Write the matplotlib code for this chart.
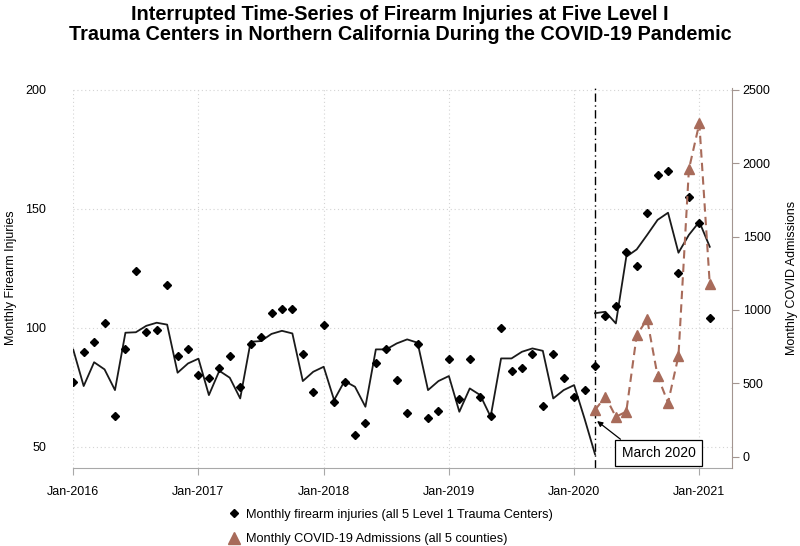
import matplotlib
matplotlib.use("Agg")
import matplotlib.pyplot as plt
from matplotlib.lines import Line2D

plt.rcParams['font.family'] = ['Liberation Sans', 'DejaVu Sans']

# month index 0 = Jan-2016
injuries = [77, 90, 94, 102, 63, 91, 124, 98, 99, 118, 88, 91,
            80, 79, 83, 88, 75, 93, 96, 106, 108, 108, 89, 73,
            101, 69, 77, 55, 60, 85, 91, 78, 64, 93, 62, 65,
            87, 70, 87, 71, 63, 100, 82, 83, 89, 67, 89, 79,
            71, 74, 84, 105, 109, 132, 126, 148, 164, 166, 123, 155,
            144, 104]
fit_pre = [90.8, 75.5, 85.5, 82.5, 73.8, 97.9, 98.1, 100.8, 102.1, 101.3, 81.1, 85.0,
           87.0, 71.7, 81.9, 79.0, 70.3, 94.1, 94.4, 97.4, 98.7, 97.6, 77.6, 81.5,
           83.6, 69.6, 77.6, 75.2, 66.8, 90.9, 90.9, 93.4, 95.1, 93.7, 73.8, 77.6,
           79.7, 64.7, 74.5, 71.7, 62.6, 87.1, 87.1, 89.9, 91.3, 90.3, 70.3, 73.8,
           75.9, 61.8, 46.9]
fit_post = [106.1, 106.7, 101.8, 129.8, 132.9, 139.0, 145.3, 148.3, 131.5, 139.0, 144.5, 134.0]
covid = [318, 409, 272, 307, 829, 936, 550, 368, 686, 1958, 2271, 1176]
tick_months = [0, 12, 24, 36, 48, 60]
tick_labels = ["Jan-2016", "Jan-2017", "Jan-2018", "Jan-2019", "Jan-2020", "Jan-2021"]
interruption = 50  # March 2020

x_all = list(range(len(injuries)))
x_pre = list(range(len(fit_pre)))
x_post = list(range(interruption, interruption + len(fit_post)))
x_cov = list(range(interruption, interruption + len(covid)))

brown = "#A86B5A"

fig = plt.figure(figsize=(8, 5.46), dpi=100)
ax = fig.add_axes([0.0909, 0.1434, 0.8237, 0.6963])
ax2 = ax.twinx()

# grid
for m in tick_months:
    ax.axvline(m, color="#d4d4d4", lw=0.8, ls=(0, (1, 2.5)), zorder=0)
for v in [50, 100, 150, 200]:
    ax.axhline(v, color="#d4d4d4", lw=0.8, ls=(0, (1, 2.5)), zorder=0)

ax.plot(x_pre, fit_pre, color="#1a1a1a", lw=1.3, zorder=3)
ax.plot(x_post, fit_post, color="#1a1a1a", lw=1.3, zorder=3)
ax.plot(x_all, injuries, ls="none", marker="D", ms=4.0, color="black", zorder=4)

ax2.plot(x_cov, covid, color=brown, ls=(0, (4, 2.5)), lw=1.5, marker="^", ms=7.5,
         markerfacecolor=brown, markeredgecolor=brown, zorder=5)

ax.axvline(interruption, color="black", lw=1.0, ls=(0, (6, 2.5, 1, 2.5)), zorder=2)

ax.set_xlim(-0.05, 63.1)
ax.set_ylim(41.2, 200.9)
ax2.set_ylim(-75, 2515)

ax.set_xticks(tick_months)
ax.set_xticklabels(tick_labels)
ax.set_yticks([50, 100, 150, 200])
ax2.set_yticks([0, 500, 1000, 1500, 2000, 2500])

for s in ["top", "left", "right"]:
    ax.spines[s].set_visible(False)
for s in ["top", "left", "bottom"]:
    ax2.spines[s].set_visible(False)
ax.spines["bottom"].set_color("#a8a8a8")
ax2.spines["right"].set_color("#a39590")

ax.tick_params(axis="y", length=0, pad=19, labelsize=9)
ax.tick_params(axis="x", length=5, color="#a8a8a8", labelsize=9, pad=8)
ax2.tick_params(axis="y", length=5, color="#a39590", labelsize=9, pad=3)

ax.set_ylabel("Monthly Firearm Injuries", fontsize=9)
ax.yaxis.set_label_coords(-0.085, 0.5)
ax2.set_ylabel("Monthly COVID Admissions", fontsize=9, labelpad=11)

ax.annotate("March 2020", xy=(50.2, 60.8), xytext=(56.1, 47.4),
            ha="center", va="center", fontsize=10,
            bbox=dict(boxstyle="square,pad=0.45", fc="white", ec="black", lw=0.9),
            arrowprops=dict(arrowstyle="-|>", color="black", lw=0.9,
                            shrinkA=0, shrinkB=0, mutation_scale=8,
                            relpos=(0.1, 1.0)),
            zorder=6)

fig.text(0.5, 0.99, "Interrupted Time-Series of Firearm Injuries at Five Level I\n"
         "Trauma Centers in Northern California During the COVID-19 Pandemic",
         ha="center", va="top", fontsize=14.3, fontweight="bold", linespacing=1.02)

handles = [Line2D([], [], ls="none", marker="D", ms=4.2, color="black"),
           Line2D([], [], ls="none", marker="^", ms=8, color=brown)]
fig.legend(handles, ["Monthly firearm injuries (all 5 Level 1 Trauma Centers)",
                     "Monthly COVID-19 Admissions (all 5 counties)"],
           loc="upper left", bbox_to_anchor=(0.276, 0.078), frameon=False,
           fontsize=9.2, handletextpad=0.4, labelspacing=1.0, handlelength=1.2,
           borderaxespad=0)

fig.savefig("out.png", dpi=100)
